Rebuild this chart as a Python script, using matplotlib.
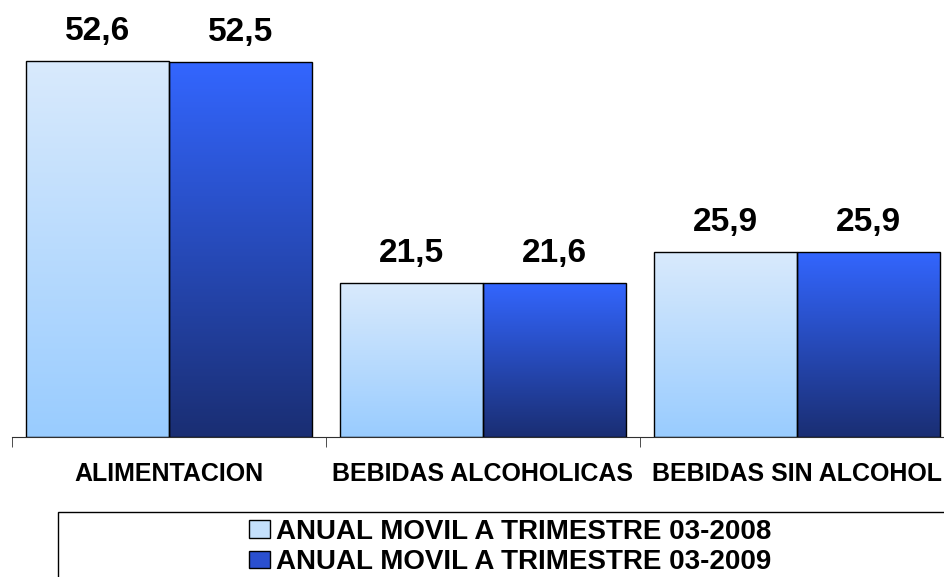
import matplotlib.pyplot as plt
import numpy as np
from matplotlib.patches import Rectangle, Patch
from matplotlib.colors import LinearSegmentedColormap

categories = ['ALIMENTACION', 'BEBIDAS ALCOHOLICAS', 'BEBIDAS SIN ALCOHOL']
vals_2008 = [52.6, 21.5, 25.9]
vals_2009 = [52.5, 21.6, 25.9]
labels_2008 = ['52,6', '21,5', '25,9']
labels_2009 = ['52,5', '21,6', '25,9']
series_names = ['ANUAL MOVIL A TRIMESTRE 03-2008', 'ANUAL MOVIL A TRIMESTRE 03-2009']

plt.rcParams['font.family'] = ['Liberation Sans', 'DejaVu Sans']

fig = plt.figure(figsize=(9.45, 5.77), dpi=100)
ax = fig.add_axes([12 / 945, 140 / 577, 942 / 945, 437 / 577])

light = LinearSegmentedColormap.from_list('light', ['#99ccff', '#d9eafc'])
dark = LinearSegmentedColormap.from_list('dark', ['#1a2e73', '#3366ff'])

w = 0.454
x = np.arange(len(categories))
grad = np.linspace(0, 1, 256).reshape(-1, 1)


def gradient_bars(xpos, vals, cmap, labels):
    bars = ax.bar(xpos, vals, w, facecolor='none', edgecolor='black', linewidth=1.0, zorder=3)
    for b, lab in zip(bars, labels):
        x0, y0 = b.get_x(), b.get_y()
        im = ax.imshow(grad, cmap=cmap, origin='lower', aspect='auto',
                       extent=[x0, x0 + b.get_width(), y0, y0 + b.get_height()], zorder=2)
        im.set_clip_path(b)
        ax.annotate(lab, (x0 + b.get_width() / 2, b.get_height()), xytext=(0, 15),
                    textcoords='offset points', ha='center', va='baseline',
                    fontsize=24, fontweight='bold')
    return bars


gradient_bars(x - w / 2, vals_2008, light, labels_2008)
gradient_bars(x + w / 2, vals_2009, dark, labels_2009)

ax.set_xlim(-0.5, 2.5)
ax.set_ylim(0, 61.1)
for s in ['top', 'right', 'left']:
    ax.spines[s].set_visible(False)
ax.spines['bottom'].set_color('#303030')
ax.set_yticks([])
ax.set_xticks(x)
ax.set_xticklabels(categories, fontsize=18, fontweight='bold')
ax.tick_params(axis='x', which='major', length=0, pad=18)
ax.set_xticks([-0.5, 0.5, 1.5, 2.5], minor=True)
ax.tick_params(axis='x', which='minor', length=7, color='#303030', direction='out')

# legend frame, running off the figure like the original
fig.patches.append(Rectangle((58 / 945, -0.05), 0.98, 0.05 + 65 / 577,
                             transform=fig.transFigure, facecolor='white',
                             edgecolor='black', linewidth=1.0, clip_on=False))
handles = [Patch(facecolor='#c4e0fd', edgecolor='black'),
           Patch(facecolor='#2a4fd0', edgecolor='black')]
fig.legend(handles, series_names, loc='center', bbox_to_anchor=(510 / 945, 1 - 547 / 577),
           frameon=False, prop={'size': 20, 'weight': 'bold'}, handlelength=0.75,
           handleheight=0.58, handletextpad=0.2, labelspacing=0.15, borderpad=0)

plt.savefig('out.png', dpi=100)
